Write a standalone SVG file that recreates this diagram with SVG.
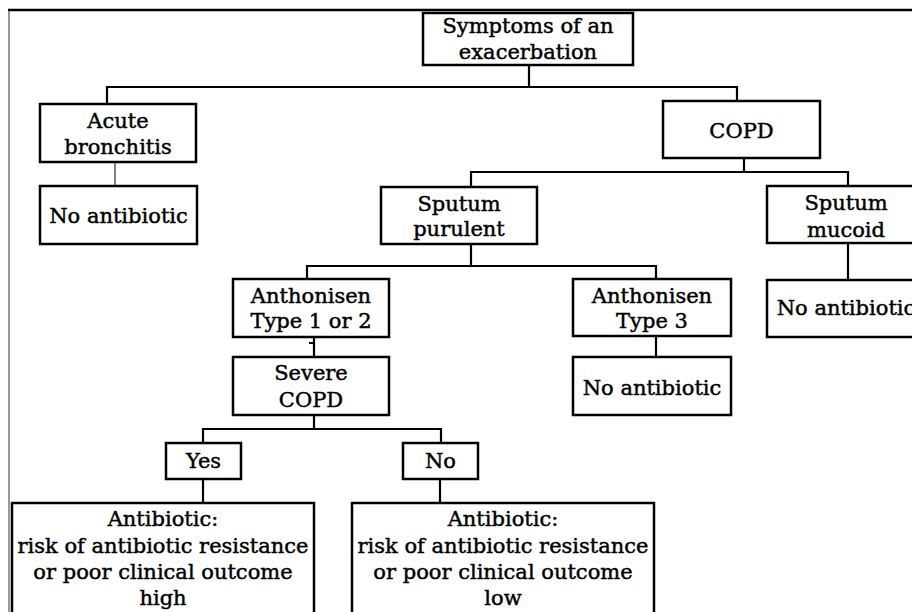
<svg xmlns="http://www.w3.org/2000/svg" width="912" height="612" viewBox="0 0 912 612">
<style>
.box{fill:#fff;stroke:#000;stroke-width:2.5}
.t{font-family:"DejaVu Serif","Liberation Serif",serif;font-size:21px;fill:#000;stroke:#000;stroke-width:0.45;text-anchor:middle}
.c{fill:none;stroke:#000;stroke-width:2.2}
.thin{fill:none;stroke:#000;stroke-width:1}
</style>
<rect width="912" height="612" fill="#fff"/>
<g id="frame">
<line x1="9" y1="10" x2="9" y2="612" stroke="#777" stroke-width="1.5"/>
<line x1="8" y1="10" x2="912" y2="10" stroke="#000" stroke-width="2.5"/>
</g>
<g id="connectors">
<path class="c" d="M529 65V87M107 104V87H737V101"/>
<path class="thin" d="M115 162V186"/>
<path class="c" d="M744 158V172M471 187V172H848V186"/>
<path class="c" d="M848 243V280"/>
<path class="c" d="M471 244V266M307 279V266H656V279"/>
<path class="c" d="M656 336V357"/>
<path class="c" d="M314 337V357M309 343H314"/>
<path class="c" d="M314 415V429M203 443V429H441V443"/>
<path class="c" d="M203 479V503M440 479V503"/>
</g>
<g id="symptoms"><rect class="box" x="423" y="13" width="210" height="52"/><text class="t" x="528" y="33">Symptoms of an</text><text class="t" x="528" y="59">exacerbation</text></g>
<g id="acute"><rect class="box" x="40" y="104" width="156" height="58"/><text class="t" x="118" y="128">Acute</text><text class="t" x="118" y="154">bronchitis</text></g>
<g id="noab1"><rect class="box" x="40" y="186" width="157" height="58"/><text class="t" x="118.5" y="223">No antibiotic</text></g>
<g id="copd"><rect class="box" x="663" y="101" width="157" height="57"/><text class="t" x="741.5" y="138">COPD</text></g>
<g id="purulent"><rect class="box" x="381" y="187" width="156" height="57"/><text class="t" x="459" y="211">Sputum</text><text class="t" x="459" y="236">purulent</text></g>
<g id="mucoid"><rect class="box" x="767" y="186" width="160" height="57"/><text class="t" x="846" y="210">Sputum</text><text class="t" x="846" y="237">mucoid</text></g>
<g id="noab3"><rect class="box" x="767" y="280" width="160" height="57"/><text class="t" x="846" y="315">No antibiotic</text></g>
<g id="anth12"><rect class="box" x="233" y="279" width="156" height="58"/><text class="t" x="311" y="303">Anthonisen</text><text class="t" x="311" y="328">Type 1 or 2</text></g>
<g id="anth3"><rect class="box" x="573" y="279" width="158" height="57"/><text class="t" x="652" y="303">Anthonisen</text><text class="t" x="652" y="328">Type 3</text></g>
<g id="noab2"><rect class="box" x="573" y="357" width="158" height="58"/><text class="t" x="652" y="395">No antibiotic</text></g>
<g id="severe"><rect class="box" x="233" y="357" width="156" height="58"/><text class="t" x="311" y="380">Severe</text><text class="t" x="311" y="407">COPD</text></g>
<g id="yes"><rect class="box" x="166" y="443" width="75" height="36"/><text class="t" x="203.5" y="468">Yes</text></g>
<g id="no"><rect class="box" x="403" y="443" width="75" height="36"/><text class="t" x="440.5" y="468">No</text></g>
<g id="high"><rect class="box" x="12" y="503" width="302" height="115"/><text class="t" x="163" y="526">Antibiotic:</text><text class="t" x="163" y="553">risk of antibiotic resistance</text><text class="t" x="163" y="579">or poor clinical outcome</text><text class="t" x="163" y="605">high</text></g>
<g id="low"><rect class="box" x="352" y="503" width="302" height="115"/><text class="t" x="503" y="526">Antibiotic:</text><text class="t" x="503" y="553">risk of antibiotic resistance</text><text class="t" x="503" y="579">or poor clinical outcome</text><text class="t" x="503" y="605">low</text></g>
</svg>
